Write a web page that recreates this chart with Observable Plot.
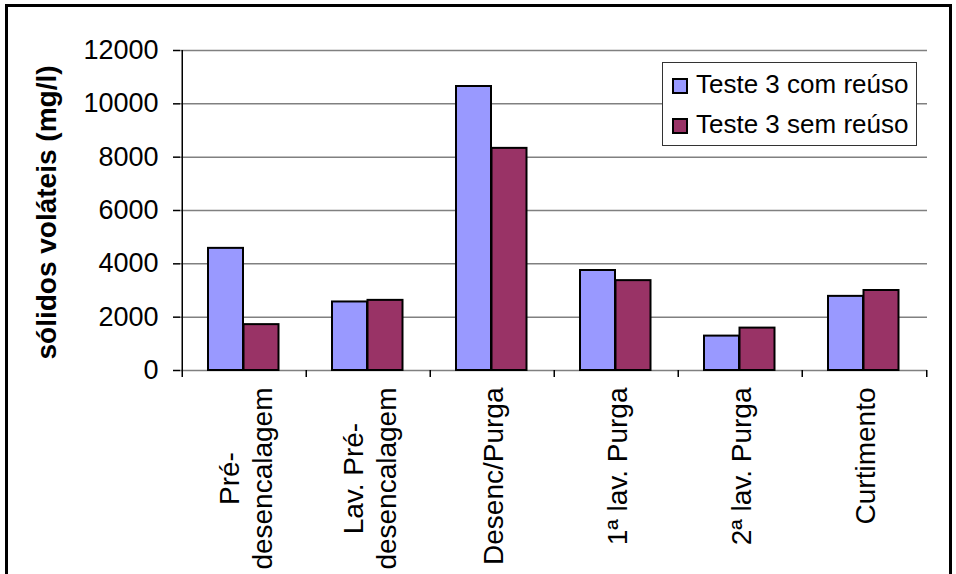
<!DOCTYPE html>
<html><head><meta charset="utf-8">
<script src="https://cdn.jsdelivr.net/npm/d3@7"></script>
<script src="https://cdn.jsdelivr.net/npm/@observablehq/plot@0.6"></script>
<style>
html,body{margin:0;padding:0;overflow:hidden;background:#fff;}
#wrap{position:relative;width:956px;height:574px;font-family:"Liberation Sans",Arial,sans-serif;}
#chart{position:absolute;left:0;top:0;}
#border{position:absolute;left:5px;top:4px;width:941px;height:640px;border:3px solid #000;pointer-events:none;}
#legend{position:absolute;left:662px;top:62px;width:253px;height:82px;border:1px solid #333;background:#fff;}
.item{position:absolute;left:9px;height:26px;line-height:26px;font-size:26px;color:#000;white-space:nowrap;}
.sw{position:absolute;left:0;top:7px;width:12px;height:12px;border:2px solid #000;}
.lab{position:absolute;left:24px;top:0;}
</style></head><body>
<div id="wrap"><div id="chart"></div><div id="border"></div><div id="legend"></div></div>
<script>
const categories = ["Pré-\ndesencalagem","Lav. Pré-\ndesencalagem","Desenc/Purga","1ª lav. Purga","2ª lav. Purga","Curtimento"];
const seriesNames = ["Teste 3 com reúso","Teste 3 sem reúso"];
const comReuso = [4580,2570,10650,3750,1290,2780];
const semReuso = [1720,2630,8330,3370,1590,3000];
const yTicks = [0,2000,4000,6000,8000,10000,12000];
const yTitle = "sólidos voláteis (mg/l)";
const colors = ["#9999FF","#993366"];

const W = 956, H = 574, ML = 180, MR = 29, MT = 50, MB = 204;
const bw = (W - ML - MR) / categories.length;
const rows = categories.map((c, i) => ({cat: c, com: comReuso[i], sem: semReuso[i]}));

const ctx = document.createElement("canvas").getContext("2d");
ctx.font = "28px 'Liberation Sans'";
const labelWidth = c => Math.max(...c.split("\n").map(s => ctx.measureText(s).width));

const labelMarks = categories.map(c => Plot.text([c], {
  x: d => d, frameAnchor: "bottom", rotate: -90, textAnchor: "middle", lineAnchor: "middle",
  lineHeight: 1.18, fontSize: 28, fill: "#000", dy: 17 + labelWidth(c) / 2
}));

const chart = Plot.plot({
  width: W, height: H, marginLeft: ML, marginRight: MR, marginTop: MT, marginBottom: MB,
  style: {fontFamily: "'Liberation Sans', Arial, sans-serif", background: "transparent", overflow: "visible"},
  x: {domain: categories, padding: 0, axis: null},
  y: {domain: [0, 12000], axis: null},
  marks: [
    Plot.gridY(yTicks, {stroke: "#808080", strokeOpacity: 1, strokeWidth: 1.5}),
    Plot.barY(rows, {x: "cat", y: "com", fill: colors[0], stroke: "#000", strokeWidth: 2, insetLeft: 26, insetRight: 63}),
    Plot.barY(rows, {x: "cat", y: "sem", fill: colors[1], stroke: "#000", strokeWidth: 2, insetLeft: 61.5, insetRight: 27.5}),
    Plot.ruleX([categories[0]], {x: d => d, dx: -bw / 2, stroke: "#000", strokeWidth: 1.5, insetBottom: -7}),
    Plot.ruleX(categories.slice(1), {x: d => d, dx: -bw / 2, stroke: "#000", strokeWidth: 1.5, insetTop: H - MT - MB, insetBottom: -7}),
    Plot.ruleX([categories[categories.length - 1]], {x: d => d, dx: bw / 2, stroke: "#000", strokeWidth: 1.5, insetTop: H - MT - MB, insetBottom: -7}),
    Plot.axisY(yTicks, {tickSize: 7, tickPadding: 15, fontSize: 27, tickFormat: d => String(d), label: null, stroke: "#000", strokeWidth: 1.5}),
    ...labelMarks,
    Plot.text([yTitle], {text: d => d, frameAnchor: "left", rotate: -90, dx: -133.5, dy: 2, fontSize: 28, fontWeight: "bold", fill: "#000", textAnchor: "middle", lineAnchor: "middle"})
  ]
});
document.getElementById("chart").appendChild(chart);

const legend = document.getElementById("legend");
seriesNames.forEach((name, i) => {
  const item = document.createElement("div");
  item.className = "item";
  item.style.top = (8 + i * 40) + "px";
  const sw = document.createElement("div");
  sw.className = "sw";
  sw.style.background = colors[i];
  const lab = document.createElement("span");
  lab.className = "lab";
  lab.textContent = name;
  item.appendChild(sw); item.appendChild(lab);
  legend.appendChild(item);
});
</script>
</body></html>
